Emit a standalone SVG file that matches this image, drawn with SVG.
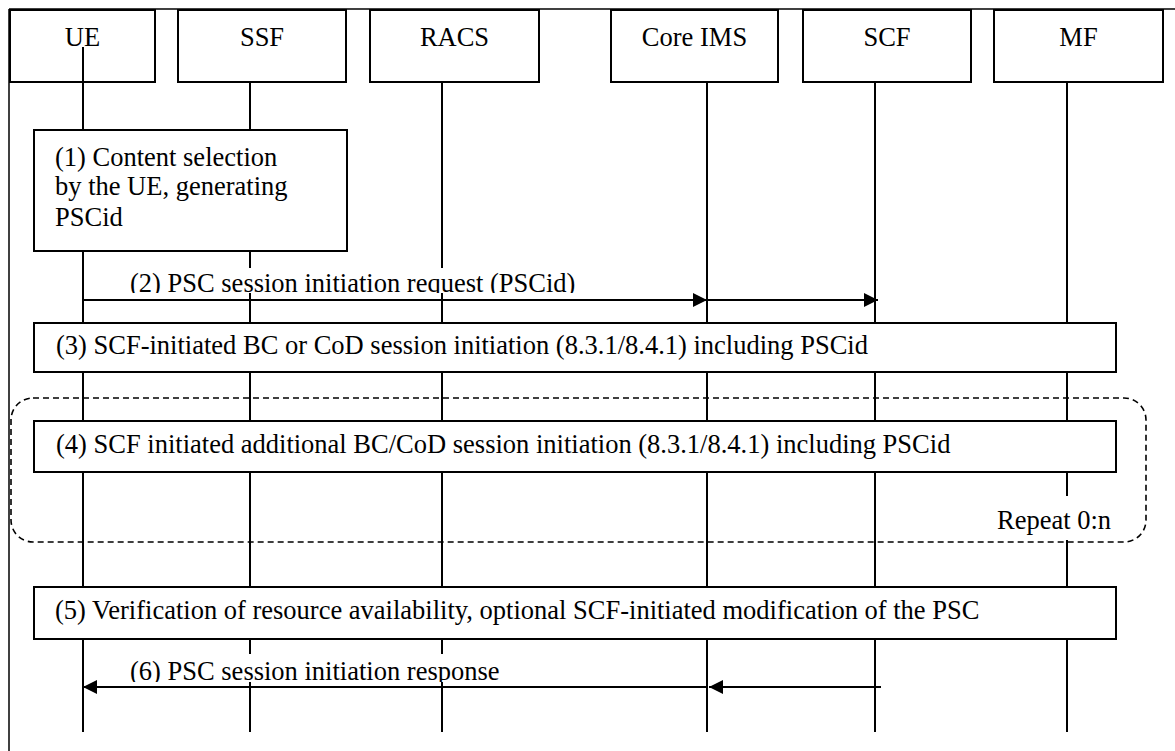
<svg xmlns="http://www.w3.org/2000/svg" width="1175" height="751" viewBox="0 0 1175 751" font-family="'Liberation Serif', 'Times New Roman', Times, serif">
<style>
text{font-family:'Liberation Serif','Times New Roman',Times,serif;font-size:26.5px;fill:#000}
.hdr{text-anchor:middle}
.box{fill:#fff;stroke:#000;stroke-width:2}
.life{stroke:#000;stroke-width:2;fill:none}
.frame{stroke:#000;stroke-width:1.5;fill:none}
.msg{stroke:#000;stroke-width:2;fill:none;marker-end:url(#ah)}
.lbl{fill:#fff;stroke:none}
.loop{fill:none;stroke:#000;stroke-width:1.6;stroke-dasharray:6 4}
</style>
<defs>
<marker id="ah" markerUnits="userSpaceOnUse" markerWidth="14" markerHeight="14" refX="14" refY="7" orient="auto">
<path d="M0,0 L14,7 L0,14 z" fill="#000"/>
</marker>
<clipPath id="c2"><rect x="120" y="262" width="480" height="31"/></clipPath>
<clipPath id="c6"><rect x="120" y="650" width="400" height="32"/></clipPath>
</defs>
<rect width="1175" height="751" fill="#fff"/>
<g id="frame">
<line class="frame" x1="9" y1="9" x2="1175" y2="9"/>
<line class="frame" x1="9" y1="9" x2="9" y2="751"/>
</g>
<g id="lifelines">
<line class="life" x1="83" y1="47" x2="83" y2="732"/>
<line class="life" x1="250" y1="82" x2="250" y2="732"/>
<line class="life" x1="442" y1="82" x2="442" y2="732"/>
<line class="life" x1="707" y1="82" x2="707" y2="732"/>
<line class="life" x1="875" y1="82" x2="875" y2="732"/>
<line class="life" x1="1067" y1="82" x2="1067" y2="732"/>
</g>
<g id="UE"><rect class="box" x="10" y="10" width="145" height="72" fill-opacity="0"/><text class="hdr" x="82.5" y="46">UE</text></g>
<g id="SSF"><rect class="box" x="178" y="10" width="168" height="72"/><text class="hdr" x="262" y="46">SSF</text></g>
<g id="RACS"><rect class="box" x="370" y="10" width="169" height="72"/><text class="hdr" x="454.5" y="46">RACS</text></g>
<g id="CoreIMS"><rect class="box" x="611" y="10" width="167" height="72"/><text class="hdr" x="694.5" y="46">Core IMS</text></g>
<g id="SCF"><rect class="box" x="803" y="10" width="168" height="72"/><text class="hdr" x="887" y="46">SCF</text></g>
<g id="MF"><rect class="box" x="994" y="10" width="169" height="72"/><text class="hdr" x="1078.5" y="46">MF</text></g>
<g id="step1"><rect class="box" x="34" y="130" width="313" height="121"/>
<text x="55" y="166">(1) Content selection</text>
<text x="55" y="195">by the UE, generating</text>
<text x="55" y="226">PSCid</text></g>
<g id="step3"><rect class="box" x="34" y="323" width="1082" height="49"/>
<text x="56" y="354">(3) SCF-initiated BC or CoD session initiation (8.3.1/8.4.1) including PSCid</text></g>
<g id="repeat">
<rect class="loop" x="11" y="398" width="1135" height="144" rx="22" ry="22"/>
<rect class="lbl" x="990" y="496" width="122" height="44"/>
<text x="997" y="529">Repeat 0:n</text></g>
<g id="step4"><rect class="box" x="34" y="421" width="1082" height="51"/>
<text x="56" y="453">(4) SCF initiated additional BC/CoD session initiation (8.3.1/8.4.1) including PSCid</text></g>
<g id="step5"><rect class="box" x="34" y="587" width="1082" height="52"/>
<text x="55" y="619">(5) Verification of resource availability, optional SCF-initiated modification of the PSC</text></g>
<g id="connectors">
<rect class="lbl" x="125" y="268" width="458" height="25"/>
<text x="130" y="291.5" clip-path="url(#c2)">(2) PSC session initiation request (PSCid)</text>
<line class="msg" x1="83" y1="300" x2="707" y2="300"/>
<line class="msg" x1="707" y1="300" x2="878" y2="300"/>
<rect class="lbl" x="125" y="654" width="380" height="28"/>
<text x="130" y="680" clip-path="url(#c6)">(6) PSC session initiation response</text>
<line class="msg" x1="881" y1="687" x2="709" y2="687"/>
<line class="msg" x1="707" y1="687" x2="83" y2="687"/>
</g>
</svg>
